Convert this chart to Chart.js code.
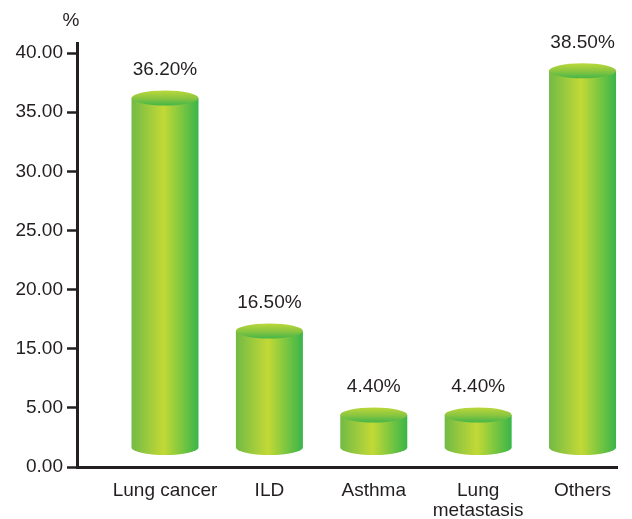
<!DOCTYPE html>
<html>
<head>
<meta charset="utf-8">
<title>Distribution of diagnoses</title>
<script src="https://cdn.jsdelivr.net/npm/chart.js@4.4.1/dist/chart.umd.min.js"></script>
<style>
  html, body { margin: 0; padding: 0; background: #ffffff; }
  #wrap { width: 632px; height: 519px; }
</style>
</head>
<body>
<div id="wrap"><canvas id="chart" width="632" height="519"></canvas></div>
<script>
// Diagnosis groups and their share of patients (%)
const categories = ['Lung cancer', 'ILD', 'Asthma', ['Lung', 'metastasis'], 'Others'];
const shares = [36.2, 16.5, 4.4, 4.4, 38.5];
// Values printed on the vertical axis (evenly spaced on screen)
const yTickValues = [0, 5, 15, 20, 25, 30, 35, 40];

const INK = '#231f20';
const FONT = { family: '"Liberation Sans", Arial, Helvetica, sans-serif', size: 19 };

// Position of a value measured in "tick steps", so every listed tick is one step apart
function tickStepOf(v) {
  const t = yTickValues, n = t.length;
  if (v <= t[0]) return (v - t[0]) / (t[1] - t[0]);
  for (let i = 1; i < n; i++) {
    if (v <= t[i]) return i - 1 + (v - t[i - 1]) / (t[i] - t[i - 1]);
  }
  return n - 1 + (v - t[n - 1]) / (t[n - 1] - t[n - 2]);
}
function valueOfTickStep(s) {
  const t = yTickValues, n = t.length;
  if (s <= 0) return t[0] + s * (t[1] - t[0]);
  if (s >= n - 1) return t[n - 1] + (s - (n - 1)) * (t[n - 1] - t[n - 2]);
  const i = Math.floor(s);
  return t[i] + (s - i) * (t[i + 1] - t[i]);
}

// Linear scale whose pixel mapping is piecewise between the listed tick values
class PiecewiseScale extends Chart.LinearScale {
  getPixelForValue(value) {
    if (value === null || value === undefined || isNaN(value)) return NaN;
    const a = tickStepOf(this.min), b = tickStepOf(this.max);
    return this.getPixelForDecimal((tickStepOf(value) - a) / (b - a));
  }
  getValueForPixel(pixel) {
    const a = tickStepOf(this.min), b = tickStepOf(this.max);
    return valueOfTickStep(a + this.getDecimalForPixel(pixel) * (b - a));
  }
}
PiecewiseScale.id = 'piecewise';
PiecewiseScale.defaults = Chart.LinearScale.defaults;
Chart.register(PiecewiseScale);

// Draws each bar as a shaded cylinder plus its value label
const cylinderPlugin = {
  id: 'cylinders',
  afterDatasetsDraw(chart) {
    const ctx = chart.ctx;
    const meta = chart.getDatasetMeta(0);
    const ds = chart.data.datasets[0];
    meta.data.forEach((bar, i) => {
      const { x, y, width, base } = bar.getProps(['x', 'y', 'width', 'base'], true);
      const rx = width / 2, ry = 7.5;
      const left = x - rx, right = x + rx;
      const bottom = base - 19;

      ctx.save();
      const side = ctx.createLinearGradient(left, 0, right, 0);
      side.addColorStop(0, '#72ba45');
      side.addColorStop(0.48, '#c3d936');
      side.addColorStop(1, '#39b54a');
      ctx.beginPath();
      ctx.moveTo(left, y);
      ctx.lineTo(left, bottom);
      ctx.ellipse(x, bottom, rx, ry, 0, Math.PI, 0, true);
      ctx.lineTo(right, y);
      ctx.closePath();
      ctx.fillStyle = side;
      ctx.fill();

      const cap = ctx.createLinearGradient(0, y - ry, 0, y + ry);
      cap.addColorStop(0, '#bad83a');
      cap.addColorStop(0.5, '#8dc63f');
      cap.addColorStop(1, '#45b649');
      ctx.beginPath();
      ctx.ellipse(x, y, rx, ry, 0, 0, Math.PI * 2);
      ctx.fillStyle = cap;
      ctx.fill();

      ctx.font = FONT.size + 'px ' + FONT.family;
      ctx.fillStyle = INK;
      ctx.textAlign = 'center';
      ctx.textBaseline = 'middle';
      ctx.fillText(ds.data[i].y.toFixed(2) + '%', x, y - 28);
      ctx.restore();
    });
  },
  afterDraw(chart) {
    const ctx = chart.ctx;
    const yScale = chart.scales.y;
    ctx.save();
    ctx.font = FONT.size + 'px ' + FONT.family;
    ctx.fillStyle = INK;
    ctx.textAlign = 'center';
    ctx.textBaseline = 'middle';
    ctx.fillText('%', yScale.right - 6, chart.chartArea.top - 22);
    ctx.restore();
  }
};

new Chart(document.getElementById('chart'), {
  type: 'bar',
  data: {
    datasets: [{
      data: shares.map((v, i) => ({ x: i, y: v })),
      backgroundColor: 'rgba(0,0,0,0)',
      borderWidth: 0,
      barThickness: 67
    }]
  },
  options: {
    responsive: false,
    animation: false,
    devicePixelRatio: 1,
    layout: { padding: { top: 43, right: 15, left: 0, bottom: 0 } },
    plugins: { legend: { display: false }, tooltip: { enabled: false } },
    scales: {
      x: {
        type: 'linear',
        offset: false,
        min: -0.843,
        max: 4.33,
        afterBuildTicks: s => { s.ticks = categories.map((_, i) => ({ value: i })); },
        afterFit: s => { s.height = 52; },
        ticks: {
          callback: v => categories[v],
          font: { ...FONT, lineHeight: 1.05 },
          color: INK,
          padding: 5.5,
          maxRotation: 0,
          autoSkip: false
        },
        grid: { display: false, offset: false },
        border: { display: true, color: INK, width: 3 }
      },
      y: {
        type: 'piecewise',
        min: 0,
        max: 40.85,
        afterBuildTicks: s => { s.ticks = yTickValues.map(v => ({ value: v })); },
        afterFit: s => { s.width = 77; },
        ticks: {
          callback: v => Number(v).toFixed(2),
          font: FONT,
          color: INK,
          padding: 4,
          autoSkip: false
        },
        grid: {
          drawOnChartArea: false,
          drawTicks: true,
          tickLength: 10,
          tickWidth: 2.5,
          tickColor: INK
        },
        border: { display: true, color: INK, width: 3 }
      }
    }
  },
  plugins: [cylinderPlugin]
});
</script>
</body>
</html>
